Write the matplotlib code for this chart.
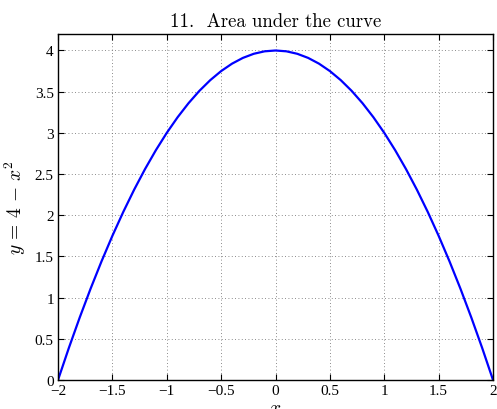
import matplotlib
matplotlib.use('Agg')
import matplotlib.pyplot as plt

# values
x_vals = [-2, -1.9, -1.8, -1.7, -1.6, -1.5, -1.4, -1.3, -1.2, -1.1, -1,
          -0.9, -0.8, -0.7, -0.6, -0.5, -0.4, -0.3, -0.2, -0.1, 0,
          0.1, 0.2, 0.3, 0.4, 0.5, 0.6, 0.7, 0.8, 0.9, 1,
          1.1, 1.2, 1.3, 1.4, 1.5, 1.6, 1.7, 1.8, 1.9, 2]
y_vals = [0, 0.39, 0.76, 1.11, 1.44, 1.75, 2.04, 2.31, 2.56, 2.79, 3,
          3.19, 3.36, 3.51, 3.64, 3.75, 3.84, 3.91, 3.96, 3.99, 4,
          3.99, 3.96, 3.91, 3.84, 3.75, 3.64, 3.51, 3.36, 3.19, 3,
          2.79, 2.56, 2.31, 2.04, 1.75, 1.44, 1.11, 0.76, 0.39, 0]
x_ticks = [-2, -1.5, -1, -0.5, 0, 0.5, 1, 1.5, 2]
y_ticks = [0, 0.5, 1, 1.5, 2, 2.5, 3, 3.5, 4]

plt.rcParams['font.family'] = 'serif'
plt.rcParams['font.serif'] = ['cmr10']
plt.rcParams['mathtext.fontset'] = 'cm'

fig = plt.figure(figsize=(4.97, 4.10), dpi=100)
ax = fig.add_axes([0.1167, 0.0707, 0.8753, 0.8439])

ax.plot(x_vals, y_vals, color='blue', linewidth=1.6, solid_joinstyle='round')

ax.set_xlim(-2, 2)
ax.set_ylim(0, 4.2)
ax.set_xticks(x_ticks)
ax.set_yticks(y_ticks)
tick_font = {'family': 'Liberation Serif', 'size': 11}
ax.set_xticklabels([('\u2212%g' % -t) if t < 0 else '%g' % t for t in x_ticks], fontdict=tick_font)
ax.set_yticklabels(['%g' % t for t in y_ticks], fontdict=tick_font)
ax.tick_params(direction='in', top=True, right=True, length=4, width=0.8, pad=3)
for s in ax.spines.values():
    s.set_linewidth(1.0)
ax.grid(True, linestyle=(0, (1, 3)), color='0.4', linewidth=0.6)

ax.set_title('11.  Area under the curve', fontsize=13.5, pad=6)
ax.set_xlabel('$x$', fontsize=14)
ax.xaxis.set_label_coords(0.5, -0.055)
ax.set_ylabel('$y\\,=\\,4\\,-\\,x^2$', fontsize=14)
ax.yaxis.set_label_coords(-0.068, 0.5)

fig.savefig('out.png', dpi=100)
